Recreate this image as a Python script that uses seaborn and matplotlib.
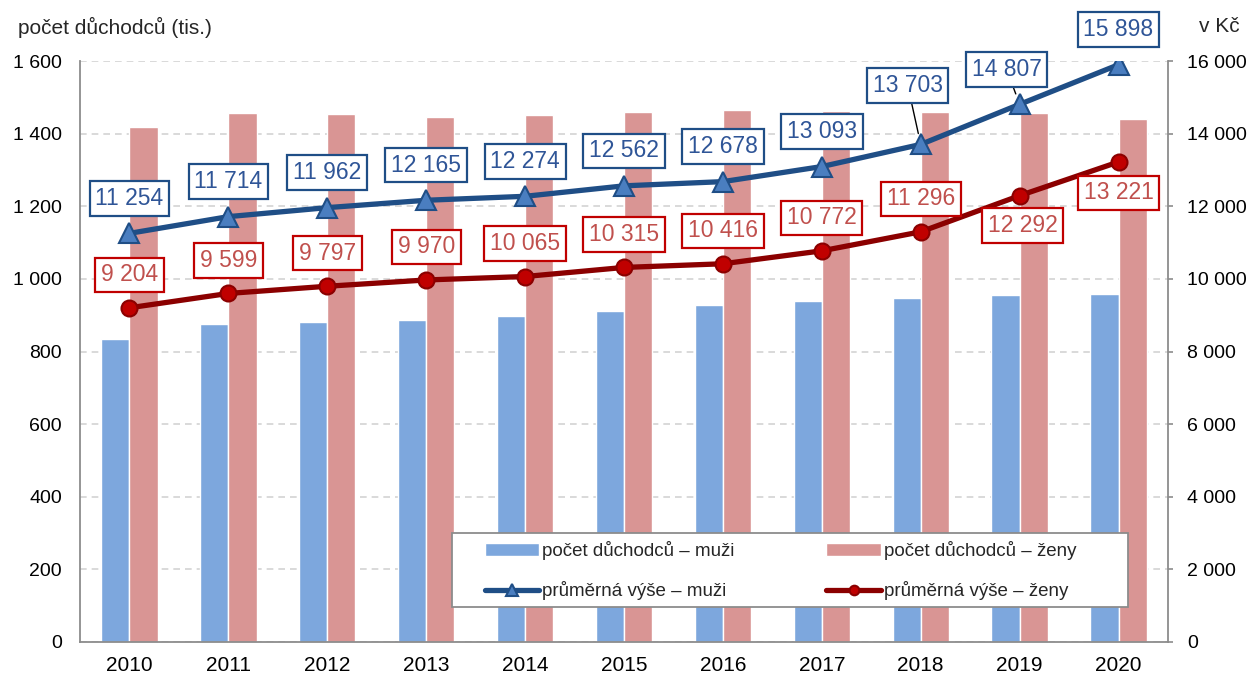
import numpy as np
import matplotlib
matplotlib.use("Agg")
import matplotlib.pyplot as plt
from matplotlib.patches import Rectangle
import pandas as pd
import seaborn as sns

# data
years = [2010, 2011, 2012, 2013, 2014, 2015, 2016, 2017, 2018, 2019, 2020]
duchodci_muzi = [834, 875, 881, 888, 898, 912, 928, 939, 948, 956, 958]
duchodci_zeny = [1418, 1457, 1453, 1447, 1451, 1459, 1464, 1461, 1459, 1456, 1440]
vyse_muzi = [11254, 11714, 11962, 12165, 12274, 12562, 12678, 13093, 13703, 14807, 15898]
vyse_zeny = [9204, 9599, 9797, 9970, 10065, 10315, 10416, 10772, 11296, 12292, 13221]

lab_bar_m = "počet důchodců – muži"
lab_bar_z = "počet důchodců – ženy"
lab_line_m = "průměrná výše – muži"
lab_line_z = "průměrná výše – ženy"

# colours
c_bar_m = "#7DA7DD"
c_bar_z = "#D99594"
c_line_m = "#1F4E86"
c_mark_m = "#4A7EC0"
c_line_z = "#8B0000"
c_mark_z = "#C00000"
c_txt_m = "#2F5597"
c_txt_z = "#C0504D"
c_axis = "#8C8C8C"

# label offsets in pixels (dx, dy) -- defaults plus exceptions
off_m = {2018: (-13, 59), 2019: (-13, 35)}
off_z = {2019: (3, -30), 2020: (0, -31)}
leaders_m = [2018, 2019]

sns.set_style("white")
plt.rcParams["font.family"] = ["Liberation Sans", "DejaVu Sans"]


def fmt(v):
    return f"{v:,.0f}".replace(",", " ")


df_bars = pd.DataFrame({
    "rok": [str(y) for y in years] * 2,
    "pocet": duchodci_muzi + duchodci_zeny,
    "skupina": [lab_bar_m] * len(years) + [lab_bar_z] * len(years),
})

fig = plt.figure(figsize=(12.54, 6.78), dpi=100)
ax = fig.add_axes([80 / 1254, 36 / 678, 1088 / 1254, 581 / 678])

sns.barplot(data=df_bars, x="rok", y="pocet", hue="skupina",
            palette=[c_bar_m, c_bar_z], width=0.57, gap=0, saturation=1,
            ax=ax)
bar_handles, bar_labels = ax.get_legend_handles_labels()
ax.get_legend().remove()

ax2 = ax.twinx()
pos = np.arange(len(years))
sns.lineplot(x=pos, y=vyse_muzi, ax=ax2, color=c_line_m, lw=3.8,
             marker="^", markersize=15, markerfacecolor=c_mark_m,
             markeredgecolor=c_line_m, markeredgewidth=1.5, label=lab_line_m)
sns.lineplot(x=pos, y=vyse_zeny, ax=ax2, color=c_line_z, lw=3.8,
             marker="o", markersize=11.5, markerfacecolor=c_mark_z,
             markeredgecolor=c_line_z, markeredgewidth=1.5, label=lab_line_z)
line_handles, line_labels = ax2.get_legend_handles_labels()
ax2.get_legend().remove()

ax.set_xlim(-0.5, len(years) - 0.5)
ax.set_ylim(0, 1600)
ax.set_yticks(range(0, 1601, 200))
ax.set_yticklabels([fmt(v) for v in range(0, 1601, 200)])
ax2.set_ylim(0, 16000)
ax2.set_yticks(range(0, 16001, 2000))
ax2.set_yticklabels([fmt(v) for v in range(0, 16001, 2000)])
ax.set_xlabel("")
ax.set_ylabel("")
ax2.set_xlabel("")
ax2.set_ylabel("")

ax.set_axisbelow(True)
ax.yaxis.grid(True, linestyle=(0, (4, 3)), color="#D3D3D3", lw=1.2)
ax.xaxis.grid(False)

for sp in ["top", "right"]:
    ax.spines[sp].set_visible(False)
for sp in ["top", "left", "bottom"]:
    ax2.spines[sp].set_visible(False)
for sp in ["left", "bottom"]:
    ax.spines[sp].set_color(c_axis)
    ax.spines[sp].set_linewidth(1.3)
ax2.spines["right"].set_color(c_axis)
ax2.spines["right"].set_linewidth(1.3)

ax.tick_params(axis="y", length=0, pad=13, labelsize=14, colors="black")
ax.tick_params(axis="x", length=0, pad=10, labelsize=15, colors="black")
ax2.tick_params(axis="y", length=3.6, width=1.2, color=c_axis, pad=10,
                labelsize=14, labelcolor="black")

# data labels
for i, y in enumerate(years):
    dx, dy = off_m.get(y, (0, 35))
    arrow = None
    if y in leaders_m:
        arrow = dict(arrowstyle="-", color="black", lw=1, shrinkA=0, shrinkB=8)
    ax2.annotate(fmt(vyse_muzi[i]), xy=(i, vyse_muzi[i]), xytext=(dx, dy),
                 textcoords="offset pixels", ha="center", va="center",
                 fontsize=16.5, color=c_txt_m, arrowprops=arrow, zorder=6,
                 bbox=dict(boxstyle="square,pad=0.25", fc="white", ec=c_line_m, lw=1.6))
    dx, dy = off_z.get(y, (0, 33))
    ax2.annotate(fmt(vyse_zeny[i]), xy=(i, vyse_zeny[i]), xytext=(dx, dy),
                 textcoords="offset pixels", ha="center", va="center",
                 fontsize=16.5, color=c_txt_z, zorder=6,
                 bbox=dict(boxstyle="square,pad=0.25", fc="white", ec=c_mark_z, lw=1.6))

# legend frame drawn separately, legend itself sits inside it
frame = Rectangle((0.3419, 0.0602), 0.6213, 0.1274, transform=ax2.transAxes,
                  fc="white", ec=c_axis, lw=1.3, zorder=9)
ax2.add_patch(frame)

handles = [bar_handles[0], line_handles[0], bar_handles[1], line_handles[1]]
labels = [bar_labels[0], line_labels[0], bar_labels[1], line_labels[1]]
leg = ax2.legend(handles, labels, ncol=2, loc="center left",
                 bbox_to_anchor=(0.3722, 0.123), fontsize=13.5, frameon=False,
                 handlelength=2.9, handletextpad=0.15, columnspacing=4.9,
                 borderpad=0, borderaxespad=0, labelspacing=1.15,
                 markerscale=0.6)
leg.set_zorder(10)

fig.text(18 / 1254, 1 - 27 / 678, "počet důchodců (tis.)", fontsize=15,
         va="center", ha="left")
fig.text(1240 / 1254, 1 - 27 / 678, "v Kč", fontsize=15, va="center", ha="right")

fig.savefig("out.png", dpi=100)
